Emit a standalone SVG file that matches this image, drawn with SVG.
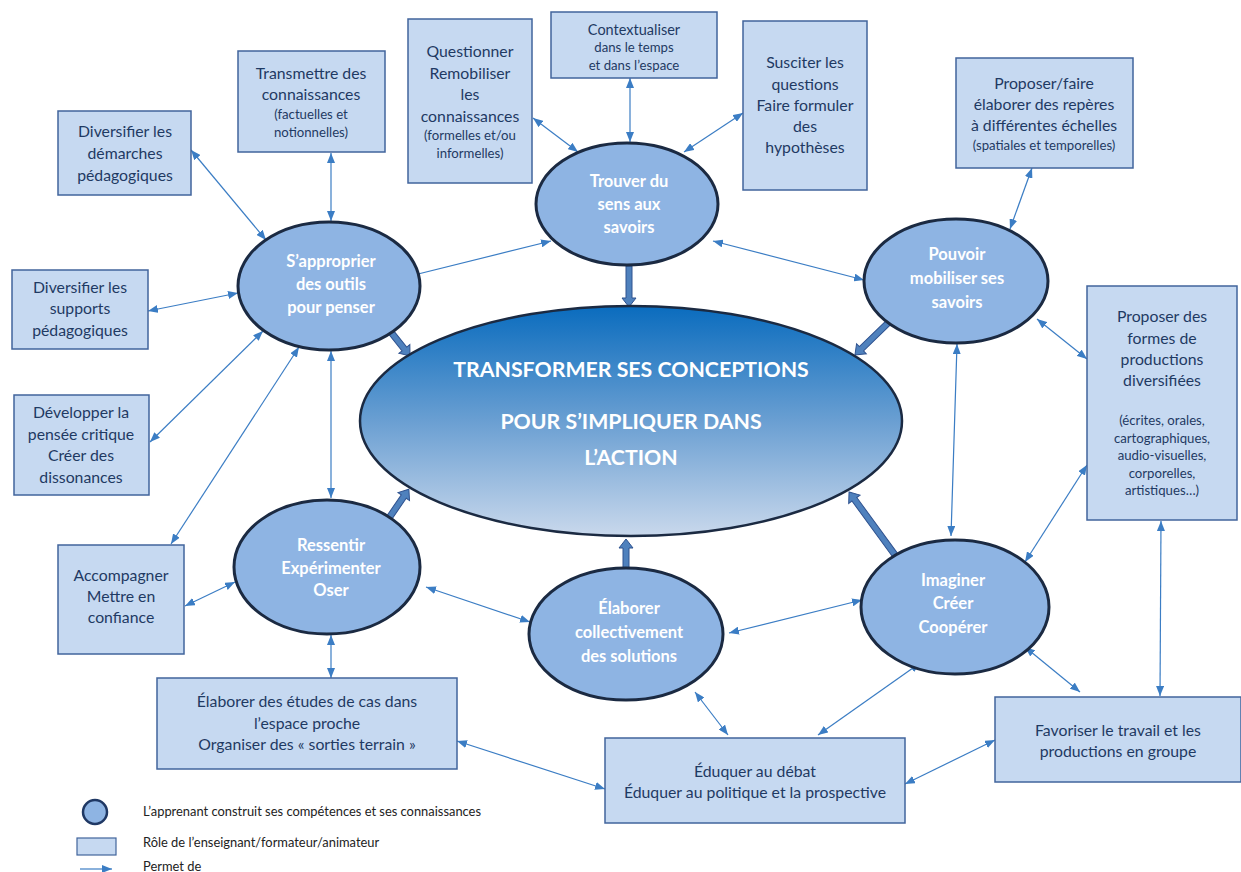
<svg xmlns="http://www.w3.org/2000/svg" width="1241" height="872" viewBox="0 0 1241 872">
<style>
.box{fill:#C6D9F1;stroke:#41649C;stroke-width:1.5}
.bt{font-family:Lato,"Liberation Sans",sans-serif;font-size:15.8px;fill:#1F3A63;text-anchor:middle}
.bs{font-family:Lato,"Liberation Sans",sans-serif;font-size:13.2px;fill:#1F3A63;text-anchor:middle}
.el{fill:#8EB4E3;stroke:#1B2A42;stroke-width:3}
.et{font-family:Lato,"Liberation Sans",sans-serif;font-size:16.5px;font-weight:bold;fill:#ffffff;text-anchor:middle}
.ct{font-family:Lato,"Liberation Sans",sans-serif;font-size:21.3px;font-weight:bold;fill:#ffffff;text-anchor:middle}
.cn{stroke:#3B7DC4;stroke-width:1.2;fill:none;marker-start:url(#ah);marker-end:url(#ah)}
.blk{fill:#4F81BD;stroke:#2F528F;stroke-width:1}
.lg{font-family:Lato,"Liberation Sans",sans-serif;font-size:12.9px;fill:#222222}
</style>
<defs>
<linearGradient id="cg" x1="0" y1="0" x2="0" y2="1">
<stop offset="0" stop-color="#0A6CBE"/>
<stop offset="0.5" stop-color="#6A9FD2"/>
<stop offset="1" stop-color="#C9D8EC"/>
</linearGradient>
<marker id="ah" viewBox="0 0 10 8" refX="10" refY="4" markerWidth="10" markerHeight="8" markerUnits="userSpaceOnUse" orient="auto-start-reverse">
<path d="M0,0 L10,4 L0,8 z" fill="#3B7DC4"/>
</marker>
</defs>

<g id="connectors">
<line class="cn" x1="191" y1="150" x2="266" y2="240"/>
<line class="cn" x1="331" y1="153" x2="331" y2="221"/>
<line class="cn" x1="148" y1="311" x2="238" y2="293"/>
<line class="cn" x1="150" y1="442" x2="263" y2="331"/>
<line class="cn" x1="171" y1="544" x2="299" y2="347"/>
<line class="cn" x1="331" y1="351" x2="331" y2="498"/>
<line class="cn" x1="406" y1="277" x2="551" y2="241"/>
<line class="cn" x1="533" y1="118" x2="578" y2="152"/>
<line class="cn" x1="630" y1="78" x2="630" y2="142"/>
<line class="cn" x1="743" y1="113" x2="684" y2="152"/>
<line class="cn" x1="713" y1="241" x2="864" y2="280"/>
<line class="cn" x1="1032" y1="168" x2="1010" y2="229"/>
<line class="cn" x1="1037" y1="319" x2="1087" y2="359"/>
<line class="cn" x1="957" y1="344" x2="951" y2="536"/>
<line class="cn" x1="1087" y1="465" x2="1025" y2="562"/>
<line class="cn" x1="1161" y1="521" x2="1160" y2="696"/>
<line class="cn" x1="1025" y1="647" x2="1080" y2="692"/>
<line class="cn" x1="185" y1="606" x2="235" y2="582"/>
<line class="cn" x1="331" y1="635" x2="331" y2="678"/>
<line class="cn" x1="426" y1="587" x2="530" y2="622"/>
<line class="cn" x1="729" y1="633" x2="862" y2="600"/>
<line class="cn" x1="695" y1="692" x2="728" y2="735"/>
<line class="cn" x1="920" y1="663" x2="818" y2="735"/>
<line class="cn" x1="457" y1="741" x2="605" y2="789"/>
<line class="cn" x1="905" y1="784" x2="995" y2="740"/>
<path class="blk" transform="translate(390,331) rotate(51.3)" d="M0,-3 L23,-3 L23,-7 L32,0 L23,7 L23,3 L0,3 Z"/>
<path class="blk" transform="translate(629,266) rotate(90)" d="M0,-3 L32,-3 L32,-7 L41,0 L32,7 L32,3 L0,3 Z"/>
<path class="blk" transform="translate(888,323) rotate(135.9)" d="M0,-3 L37,-3 L37,-7 L46,0 L37,7 L37,3 L0,3 Z"/>
<path class="blk" transform="translate(389,518) rotate(-55.4)" d="M0,-3 L26,-3 L26,-7 L35,0 L26,7 L26,3 L0,3 Z"/>
<path class="blk" transform="translate(626,572) rotate(-90)" d="M0,-3 L24,-3 L24,-7 L33,0 L24,7 L24,3 L0,3 Z"/>
<path class="blk" transform="translate(895,555) rotate(-126.1)" d="M0,-3 L69,-3 L69,-7 L78,0 L69,7 L69,3 L0,3 Z"/>
</g>

<g id="center">
<ellipse cx="631" cy="421" rx="271" ry="115" fill="url(#cg)" stroke="#1B2A42" stroke-width="2.5"/>
<text class="ct" x="631" y="377">TRANSFORMER SES CONCEPTIONS</text>
<text class="ct" x="631" y="429">POUR S’IMPLIQUER DANS</text>
<text class="ct" x="631" y="465">L’ACTION</text>
</g>

<g id="s-approprier">
<ellipse class="el" cx="329" cy="286" rx="91" ry="64"/>
<text class="et" x="331" y="267">S’approprier</text>
<text class="et" x="331" y="290">des outils</text>
<text class="et" x="331" y="313">pour penser</text>
</g>
<g id="trouver">
<ellipse class="el" cx="627" cy="204" rx="91" ry="61"/>
<text class="et" x="629" y="187">Trouver du</text>
<text class="et" x="629" y="210">sens aux</text>
<text class="et" x="629" y="233">savoirs</text>
</g>
<g id="pouvoir">
<ellipse class="el" cx="956" cy="281" rx="92" ry="62"/>
<text class="et" x="957" y="260">Pouvoir</text>
<text class="et" x="957" y="284">mobiliser ses</text>
<text class="et" x="957" y="308">savoirs</text>
</g>
<g id="ressentir">
<ellipse class="el" cx="327" cy="567" rx="93" ry="67"/>
<text class="et" x="331" y="551">Ressentir</text>
<text class="et" x="331" y="574">Expérimenter</text>
<text class="et" x="331" y="596">Oser</text>
</g>
<g id="elaborer-collectivement">
<ellipse class="el" cx="626" cy="634" rx="97" ry="66"/>
<text class="et" x="629" y="614">Élaborer</text>
<text class="et" x="629" y="638">collectivement</text>
<text class="et" x="629" y="662">des solutions</text>
</g>
<g id="imaginer">
<ellipse class="el" cx="955" cy="607" rx="94" ry="67"/>
<text class="et" x="953" y="586">Imaginer</text>
<text class="et" x="953" y="609">Créer</text>
<text class="et" x="953" y="633">Coopérer</text>
</g>

<g id="transmettre">
<rect class="box" x="238" y="51" width="147" height="101"/>
<text class="bt" x="311" y="79">Transmettre des</text>
<text class="bt" x="311" y="100">connaissances</text>
<text class="bs" x="311" y="119">(factuelles et</text>
<text class="bs" x="311" y="137">notionnelles)</text>
</g>
<g id="questionner">
<rect class="box" x="408" y="19" width="124" height="164"/>
<text class="bt" x="470" y="57">Questionner</text>
<text class="bt" x="470" y="79">Remobiliser</text>
<text class="bt" x="470" y="100">les</text>
<text class="bt" x="470" y="122">connaissances</text>
<text class="bs" x="470" y="140">(formelles et/ou</text>
<text class="bs" x="470" y="158">informelles)</text>
</g>
<g id="contextualiser">
<rect class="box" x="551" y="12" width="166" height="66"/>
<text class="bt" x="634" y="35" style="font-size:14.5px">Contextualiser</text>
<text class="bs" x="634" y="52">dans le temps</text>
<text class="bs" x="634" y="70">et dans l’espace</text>
</g>
<g id="susciter">
<rect class="box" x="743" y="21" width="124" height="169"/>
<text class="bt" x="805" y="68">Susciter les</text>
<text class="bt" x="805" y="90">questions</text>
<text class="bt" x="805" y="111">Faire formuler</text>
<text class="bt" x="805" y="132">des</text>
<text class="bt" x="805" y="153">hypothèses</text>
</g>
<g id="reperes">
<rect class="box" x="956" y="58" width="177" height="110"/>
<text class="bt" x="1044" y="89">Proposer/faire</text>
<text class="bt" x="1044" y="110">élaborer des repères</text>
<text class="bt" x="1044" y="131">à différentes échelles</text>
<text class="bs" x="1044" y="150">(spatiales et temporelles)</text>
</g>
<g id="demarches">
<rect class="box" x="58" y="111" width="133" height="84"/>
<text class="bt" x="125" y="137">Diversifier les</text>
<text class="bt" x="125" y="159">démarches</text>
<text class="bt" x="125" y="181">pédagogiques</text>
</g>
<g id="supports">
<rect class="box" x="12" y="270" width="136" height="79"/>
<text class="bt" x="80" y="293">Diversifier les</text>
<text class="bt" x="80" y="314">supports</text>
<text class="bt" x="80" y="336">pédagogiques</text>
</g>
<g id="developper">
<rect class="box" x="14" y="395" width="135" height="100"/>
<text class="bt" x="81" y="418">Développer la</text>
<text class="bt" x="81" y="440">pensée critique</text>
<text class="bt" x="81" y="461">Créer des</text>
<text class="bt" x="81" y="483">dissonances</text>
</g>
<g id="accompagner">
<rect class="box" x="58" y="545" width="126" height="109"/>
<text class="bt" x="121" y="581">Accompagner</text>
<text class="bt" x="121" y="602">Mettre en</text>
<text class="bt" x="121" y="623">confiance</text>
</g>
<g id="formes">
<rect class="box" x="1087" y="286" width="150" height="234"/>
<text class="bt" x="1162" y="322">Proposer des</text>
<text class="bt" x="1162" y="344">formes de</text>
<text class="bt" x="1162" y="365">productions</text>
<text class="bt" x="1162" y="386">diversifiées</text>
<text class="bs" x="1162" y="425">(écrites, orales,</text>
<text class="bs" x="1162" y="443">cartographiques,</text>
<text class="bs" x="1162" y="460">audio-visuelles,</text>
<text class="bs" x="1162" y="478">corporelles,</text>
<text class="bs" x="1162" y="495">artistiques…)</text>
</g>
<g id="etudes">
<rect class="box" x="157" y="678" width="300" height="91"/>
<text class="bt" x="307" y="707">Élaborer des études de cas dans</text>
<text class="bt" x="307" y="729">l’espace proche</text>
<text class="bt" x="307" y="750">Organiser des « sorties terrain »</text>
</g>
<g id="eduquer">
<rect class="box" x="605" y="738" width="300" height="85"/>
<text class="bt" x="755" y="777">Éduquer au débat</text>
<text class="bt" x="755" y="798">Éduquer au politique et la prospective</text>
</g>
<g id="favoriser">
<rect class="box" x="995" y="697" width="246" height="85"/>
<text class="bt" x="1118" y="736">Favoriser le travail et les</text>
<text class="bt" x="1118" y="757">productions en groupe</text>
</g>

<g id="legend">
<circle cx="95" cy="812" r="12" fill="#8EB4E3" stroke="#1F3864" stroke-width="2.5"/>
<rect x="77" y="838" width="39" height="17" fill="#C6D9F1" stroke="#41649C" stroke-width="1.2"/>
<line x1="80" y1="869" x2="112" y2="869" stroke="#3B7DC4" stroke-width="1.2" marker-end="url(#ah)"/>
<text class="lg" x="143" y="816">L’apprenant construit ses compétences et ses connaissances</text>
<text class="lg" x="143" y="847">Rôle de l’enseignant/formateur/animateur</text>
<text class="lg" x="143" y="871">Permet de</text>
</g>
</svg>
